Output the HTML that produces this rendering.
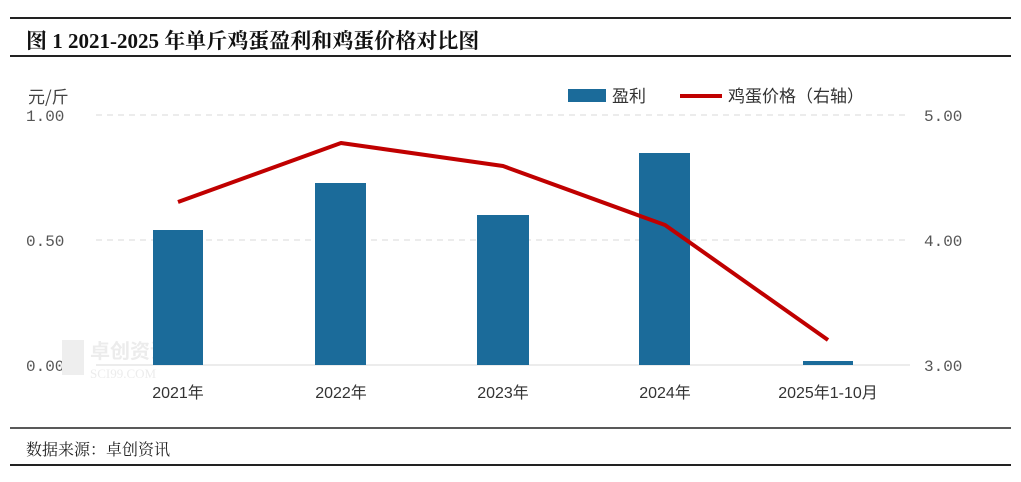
<!DOCTYPE html><html><head><meta charset="utf-8"><style>
body{margin:0;background:#fff;width:1021px;height:477px;overflow:hidden;font-family:"Liberation Sans","Noto Sans CJK SC",sans-serif}
</style></head><body>
<svg width="1021" height="477" xmlns="http://www.w3.org/2000/svg">
<line x1="10" y1="18" x2="1011" y2="18" stroke="#222" stroke-width="2"/>
<text x="26" y="48" font-family="'Liberation Serif','Noto Serif CJK SC',serif" font-weight="bold" font-size="21" fill="#111">图 1 2021-2025 年单斤鸡蛋盈利和鸡蛋价格对比图</text>
<line x1="10" y1="56" x2="1011" y2="56" stroke="#222" stroke-width="2"/>
<text x="28" y="103" font-size="17" fill="#444" font-family="'Noto Sans CJK SC',sans-serif">元/斤</text>
<g font-family="'Liberation Mono',monospace" font-size="16" fill="#555">
<text x="26" y="121">1.00</text><text x="26" y="246">0.50</text><text x="26" y="371">0.00</text>
<text x="924" y="121">5.00</text><text x="924" y="246">4.00</text><text x="924" y="371">3.00</text>
</g>
<g stroke="#d8d8d8" stroke-dasharray="6,5" stroke-width="1">
<line x1="96" y1="115" x2="910" y2="115"/><line x1="96" y1="240" x2="910" y2="240"/>
</g>
<line x1="96" y1="365" x2="910" y2="365" stroke="#d8d8d8"/>
<text x="90" y="358" font-size="20" fill="#ececec" font-weight="bold" font-family="'Noto Sans CJK SC',sans-serif">卓创资讯</text>
<text x="90" y="378" font-size="13" fill="#ececec" font-family="'Liberation Serif',serif">SCI99.COM</text>
<rect x="62" y="340" width="22" height="35" fill="#eeeeee"/>
<g fill="#1b6b9a">
<rect x="153" y="230" width="50" height="135"/>
<rect x="315" y="183" width="51" height="182"/>
<rect x="477" y="215" width="52" height="150"/>
<rect x="639" y="153" width="51" height="212"/>
<rect x="803" y="361" width="50" height="4"/>
</g>
<polyline points="178,202 341,143 503,166 665,225 828,340" fill="none" stroke="#c00000" stroke-width="4" stroke-linejoin="round"/>
<g font-size="16" fill="#333" text-anchor="middle" font-family="'Liberation Sans','Noto Sans CJK SC',sans-serif">
<text x="178" y="398">2021年</text><text x="341" y="398">2022年</text><text x="503" y="398">2023年</text><text x="665" y="398">2024年</text><text x="828" y="398">2025年1-10月</text>
</g>
<rect x="568" y="89" width="38" height="13" fill="#1b6b9a"/>
<text x="612" y="102" font-size="17" fill="#333" font-family="'Noto Sans CJK SC',sans-serif">盈利</text>
<line x1="680" y1="96" x2="722" y2="96" stroke="#c00000" stroke-width="4"/>
<text x="728" y="102" font-size="17" fill="#333" font-family="'Noto Sans CJK SC',sans-serif">鸡蛋价格（右轴）</text>
<line x1="10" y1="428" x2="1011" y2="428" stroke="#222" stroke-width="1.5"/>
<text x="26" y="455" font-size="16" fill="#222" font-family="'Noto Serif CJK SC',serif">数据来源：卓创资讯</text>
<line x1="10" y1="465" x2="1011" y2="465" stroke="#222" stroke-width="2"/>
</svg>
</body></html>
